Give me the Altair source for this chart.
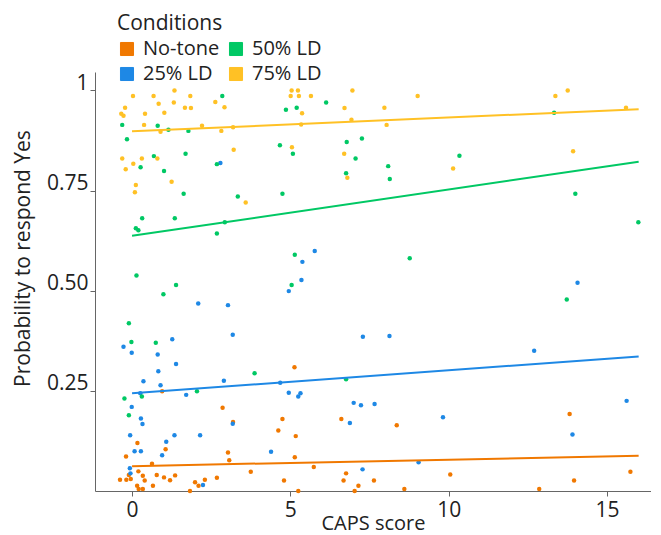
import altair as alt
import pandas as pd

conditions = ["No-tone", "25% LD", "50% LD", "75% LD"]
colors = ["#F07800", "#1E88E5", "#00C864", "#FFC125"]

notone_x = [0.95,0.17,-0.19,1.06,0.63,2.86,3.19,3.03,3.07,0.2,0.34,-0.1,-0.38,-0.18,-0.04,0.4,0.16,0.21,0.34,0.66,0.78,1.01,1.2,1.36,1.83,1.99,2.1,2.3,2.68,3.75,5.13,4.75,4.62,5.17,5.14,5.74,4.8,5.25,6.61,6.76,6.68,7.15,7.03,7.64,8.36,8.6,10.05,12.86,13.82,13.96,15.74]
notone_y = [0.249,0.120,0.086,0.104,0.068,0.208,0.172,0.096,0.077,0.049,0.038,0.040,0.028,0.028,0.030,0.026,0.013,0.005,0.005,0.013,0.040,0.034,0.027,0.039,0.0,0.022,0.013,0.028,0.033,0.048,0.309,0.180,0.151,0.137,0.084,0.060,0.026,0.0,0.180,0.044,0.026,0.013,0.0,0.026,0.164,0.005,0.041,0.005,0.192,0.026,0.048]

ld25_x = [2.79,5.77,5.38,5.35,4.95,2.09,3.03,3.18,1.27,-0.27,-0.01,0.81,1.39,0.83,0.36,0.9,2.9,4.68,1.71,0.26,-0.01,0.28,0.33,3.18,-0.06,1.34,2.15,1.08,0.95,0.08,0.28,4.39,-0.07,-0.05,2.24,4.95,5.25,5.32,7.0,7.23,7.66,6.88,7.29,7.28,14.07,8.13,12.7,9.82,15.62,13.91,9.05]
ld25_y = [0.819,0.599,0.572,0.527,0.499,0.468,0.464,0.390,0.379,0.360,0.345,0.341,0.317,0.299,0.274,0.264,0.275,0.270,0.240,0.244,0.210,0.181,0.167,0.168,0.139,0.139,0.139,0.123,0.089,0.099,0.099,0.098,0.057,0.044,0.015,0.245,0.236,0.244,0.220,0.214,0.217,0.170,0.385,0.054,0.520,0.387,0.350,0.184,0.225,0.141,0.072]

ld50_x = [-0.31,-0.16,0.81,1.15,1.78,2.85,0.69,0.27,1.69,1.01,2.68,1.63,0.32,1.35,0.12,0.2,2.93,2.68,3.34,0.14,1.39,0.99,4.86,5.2,6.13,4.67,5.08,4.75,6.78,7.26,7.06,6.76,5.14,5.04,13.33,10.34,8.09,8.14,14.0,15.99,8.77,13.73,-0.1,-0.02,0.75,-0.24,0.31,-0.1,2.05,3.87,6.76]
ld50_y = [0.914,0.878,0.912,0.902,0.899,0.986,0.836,0.808,0.842,0.799,0.816,0.742,0.681,0.681,0.656,0.651,0.671,0.643,0.735,0.538,0.514,0.491,0.952,0.957,0.970,0.863,0.842,0.742,0.871,0.880,0.830,0.793,0.590,0.514,0.944,0.837,0.811,0.779,0.742,0.671,0.581,0.478,0.419,0.372,0.370,0.231,0.236,0.189,0.249,0.294,0.279]

ld75_x = [0.03,0.68,1.34,1.84,-0.22,0.84,1.32,1.67,1.86,2.63,2.92,-0.34,-0.27,0.41,1.02,0.38,0.9,2.21,2.82,3.19,5.04,5.24,5.01,5.27,5.65,5.37,5.34,6.96,6.71,6.93,-0.31,-0.2,0.04,0.31,0.8,0.12,0.09,1.25,3.21,3.59,5.05,6.7,6.8,7.97,9.02,8.04,10.14,13.37,13.76,13.93,15.6]
ld75_y = [0.986,0.986,1.0,0.986,0.957,0.967,0.970,0.957,0.956,0.971,0.958,0.942,0.937,0.942,0.944,0.914,0.897,0.912,0.899,0.908,1.0,1.0,0.986,0.986,0.986,0.943,0.915,1.0,0.956,0.927,0.830,0.803,0.817,0.830,0.830,0.764,0.746,0.772,0.852,0.720,0.858,0.842,0.782,0.957,0.986,0.914,0.805,0.986,1.0,0.848,0.957]

# fitted line endpoints at CAPS 0 and 16
fit_x = [0, 16]
fit_notone = [0.062, 0.088]
fit_25 = [0.244, 0.336]
fit_50 = [0.637, 0.822]
fit_75 = [0.898, 0.953]

series = {
    "No-tone": (notone_x, notone_y, fit_notone),
    "25% LD": (ld25_x, ld25_y, fit_25),
    "50% LD": (ld50_x, ld50_y, fit_50),
    "75% LD": (ld75_x, ld75_y, fit_75),
}

pts_rows, fit_rows = [], []
for name, (xs, ys, fy) in series.items():
    for x, y in zip(xs, ys):
        pts_rows.append({"caps": x, "p": y, "cond": name})
    for x, y in zip(fit_x, fy):
        fit_rows.append({"caps": x, "p": y, "cond": name})
pts = pd.DataFrame(pts_rows)
fits = pd.DataFrame(fit_rows)

FONT = "Open Sans"
xscale = alt.Scale(domain=[-1.17, 16.39], nice=False, zero=False)
yscale = alt.Scale(domain=[0, 1.046], nice=False)
cscale = alt.Scale(domain=conditions, range=colors)

xaxis = alt.Axis(values=[0, 5, 10, 15], title="CAPS score", grid=False,
                 labelFontSize=21, titleFontSize=20, labelFont=FONT, titleFont=FONT,
                 tickSize=5, labelPadding=3, titleY=32, titleBaseline="middle",
                 domainColor="#666", tickColor="#666", labelColor="#222", titleColor="#222",
                 titleFontWeight="normal")
yaxis = alt.Axis(values=[0.25, 0.5, 0.75, 1], title="Probability to respond Yes", grid=False,
                 labelExpr="datum.value == 1 ? '1' : format(datum.value, '.2f')",
                 labelFontSize=21, titleFontSize=21, labelFont=FONT, titleFont=FONT,
                 labelBaseline="alphabetic", labelOffset=-1,
                 tickSize=5, labelPadding=2, titleX=-72, titleY=186,
                 titleAngle=-90, titleAlign="center", titleBaseline="middle",
                 domainColor="#666", tickColor="#666", labelColor="#222", titleColor="#222",
                 titleFontWeight="normal")

points = alt.Chart(pts).mark_circle(size=20, opacity=1).encode(
    x=alt.X("caps:Q", scale=xscale, axis=xaxis),
    y=alt.Y("p:Q", scale=yscale, axis=yaxis),
    color=alt.Color("cond:N", scale=cscale, sort=conditions,
                    legend=alt.Legend(title="Conditions", orient="none", legendX=22, legendY=-59,
                                      columns=2, columnPadding=6, rowPadding=5,
                                      symbolType="square", symbolSize=170,
                                      symbolStrokeColor="#333", symbolStrokeWidth=1,
                                      symbolOpacity=1,
                                      labelFontSize=20, titleFontSize=21,
                                      labelFont=FONT, titleFont=FONT,
                                      titleFontWeight="normal", titlePadding=5,
                                      labelColor="#222", titleColor="#222", labelOffset=6)),
)

lines = alt.Chart(fits).mark_line(strokeWidth=2).encode(
    x=alt.X("caps:Q", scale=xscale),
    y=alt.Y("p:Q", scale=yscale),
    color=alt.Color("cond:N", scale=cscale, legend=None),
    detail="cond:N",
)

chart = alt.layer(points, lines).properties(
    width=556, height=419,
    padding={"left": 87, "top": 64, "right": 0, "bottom": 44},
    autosize=alt.AutoSizeParams(type="none"),
).configure_view(stroke=None)

chart.save("out.html", embed_options={"renderer": "svg", "actions": False})
